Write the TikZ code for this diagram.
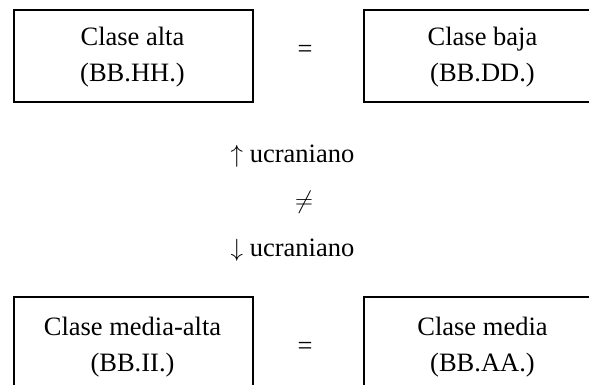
\documentclass[tikz,border=0pt]{standalone}
\usepackage{fontspec}
\setmainfont{Liberation Serif}
\tikzset{
  clsbox/.style={draw, line width=1.6pt, minimum width=239pt, minimum height=91.5pt, inner sep=0pt, anchor=north west},
  clstext/.style={align=center, inner sep=0pt, anchor=north, font=\fontsize{26.5}{35.5}\selectfont},
  midtext/.style={inner sep=0pt, anchor=base, font=\fontsize{26.5}{32}\selectfont},
}
\begin{document}
\begin{tikzpicture}[x=1pt,y=-1pt]
\useasboundingbox (0,0) rectangle (589,385);
\node[clsbox] (ha) at (13,9.5) {};
\node[clsbox] (dd) at (363,9.5) {};
\node[clsbox] (ii) at (13,296) {};
\node[clsbox] (aa) at (363,296) {};
\node[clstext] (tha) at (132.5,27) {Clase alta\\(BB.HH.)};
\node[clstext] (tdd) at (482.5,27) {Clase baja\\(BB.DD.)};
\node[clstext] (tii) at (132.5,317) {Clase media-alta\\(BB.II.)};
\node[clstext] (taa) at (482.5,317) {Clase media\\(BB.AA.)};
\node[midtext, anchor=center] (eq1) at (305,51.5) {=};
\node[midtext, anchor=center] (eq2) at (305,348) {=};
\node[midtext] (up) at (292.5,162) {$\uparrow$ ucraniano};
\node[midtext, anchor=center] (ne) at (304,202) {$\neq$};
\node[midtext] (dn) at (292.5,256) {$\downarrow$ ucraniano};
\end{tikzpicture}
\end{document}
